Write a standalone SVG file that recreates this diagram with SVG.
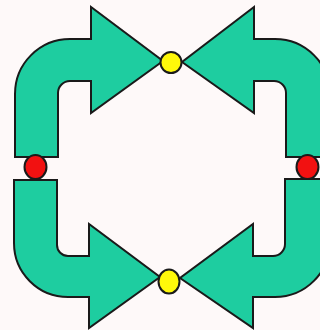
<svg xmlns="http://www.w3.org/2000/svg" width="320" height="330" viewBox="0 0 320 330">
<style>
.arrow{fill:#1ecda0;stroke:#1a1a1a;stroke-width:2;stroke-linejoin:miter}
.red{fill:#f21111;stroke:#1a1a1a;stroke-width:2}
.yellow{fill:#fff80a;stroke:#1a1a1a;stroke-width:2}
</style>
<rect width="320" height="330" fill="#fef9f9"/>
<g id="arrow-tl"><path class="arrow" d="M15,157 L15,94 A55,55 0 0 1 70,39 L91,39 L91,7 L163,61 L91,113 L91,81 L70,81 A12,12 0 0 0 58,93 L58,157 Z"/></g>
<g id="arrow-tr"><path class="arrow" d="M286,157 L286,93 A12,12 0 0 0 274,81 L254,81 L254,113 L182,62 L254,7 L254,39 L275,39 A55,55 0 0 1 330,94 L330,157 Z"/></g>
<g id="arrow-bl"><path class="arrow" d="M14,180 L14,243 A54,54 0 0 0 68,297 L89,297 L89,328 L160,277 L89,224 L89,256 L68,256 A11,11 0 0 1 57,245 L57,180 Z"/></g>
<g id="arrow-br"><path class="arrow" d="M285,179 L285,244 A12,12 0 0 1 273,256 L253,256 L253,224 L180,278 L253,328 L253,297 L275,297 A55,55 0 0 0 330,242 L330,179 Z"/></g>
<g id="dot-top"><ellipse class="yellow" cx="171" cy="62.5" rx="10.5" ry="10.5"/></g>
<g id="dot-bottom"><ellipse class="yellow" cx="169" cy="281.5" rx="10.5" ry="12"/></g>
<g id="dot-left"><ellipse class="red" cx="35.5" cy="167" rx="11" ry="12"/></g>
<g id="dot-right"><ellipse class="red" cx="307.5" cy="167" rx="11" ry="12"/></g>
<g id="connectors"></g>
</svg>
